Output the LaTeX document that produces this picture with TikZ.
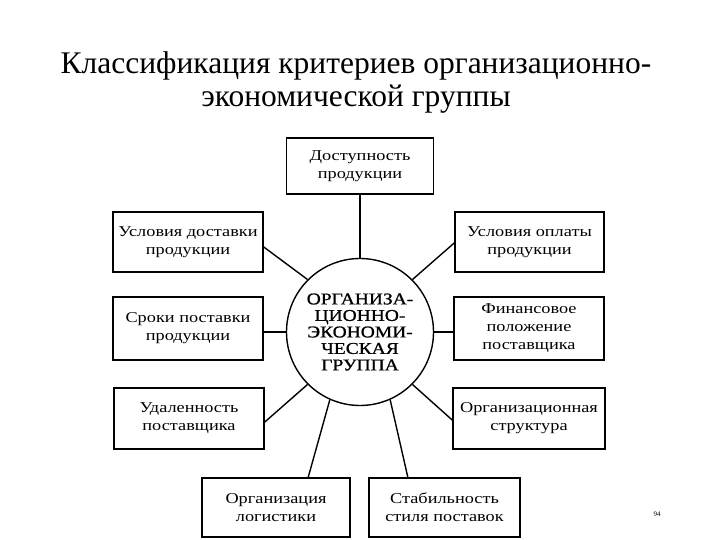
\documentclass[tikz,border=0pt]{standalone}
\usepackage{fontspec}
\setmainfont{Liberation Serif}
\newfontfamily\boxfont[FakeStretch=1.22]{Liberation Serif}
\newfontfamily\circfont[FakeStretch=1.18,FakeBold=1]{Liberation Serif}
\begin{document}
\begin{tikzpicture}[x=1pt,y=-1pt,
  box/.style={draw,line width=1.6pt,align=center,inner sep=0pt,font=\boxfont\fontsize{15}{18}\selectfont},
  link/.style={line width=1.4pt}]
\useasboundingbox (0,0) rectangle (720,540);
\node[align=center,font=\fontsize{31.5}{33}\selectfont] (title) at (356,82) {Классификация критериев организационно-\\экономической группы};
\node[draw,circle,line width=1.4pt,minimum size=147pt,inner sep=0pt,align=center,font=\circfont\fontsize{16.5}{16.5}\selectfont] (c) at (360,332) {ОРГАНИЗА-\\ЦИОННО-\\ЭКОНОМИ-\\ЧЕСКАЯ\\ГРУППА};
\node[box,minimum width=147pt,minimum height=56pt] (b1) at (360,166) {Доступность\\продукции};
\node[box,minimum width=150pt,minimum height=60pt] (b2) at (188,242) {Условия доставки\\продукции};
\node[box,minimum width=149pt,minimum height=60pt] (b3) at (529.5,242) {Условия оплаты\\продукции};
\node[box,minimum width=150pt,minimum height=63pt] (b4) at (188,328.5) {Сроки поставки\\продукции};
\node[box,minimum width=150pt,minimum height=63pt] (b5) at (529,328.5) {Финансовое\\положение\\поставщика};
\node[box,minimum width=150pt,minimum height=61pt] (b6) at (189,418.5) {Удаленность\\поставщика};
\node[box,minimum width=152pt,minimum height=61pt] (b7) at (529,418.5) {Организационная\\структура};
\node[box,minimum width=148pt,minimum height=59pt] (b8) at (276,507.5) {Организация\\логистики};
\node[box,minimum width=151pt,minimum height=59pt] (b9) at (444.5,507.5) {Стабильность\\стиля поставок};
\node[font=\fontsize{7}{8}\selectfont] (pg) at (657,514) {94};
\draw[link] (b1.south) -- (c.north);
\draw[link] (b2.east |- 0,247) -- (c.135);
\draw[link] (b3.west |- 0,243) -- (c.45);
\draw[link] (b4.east |- c.west) -- (c.west);
\draw[link] (b5.west |- c.east) -- (c.east);
\draw[link] (b6.east |- 0,422) -- (c.225);
\draw[link] (b7.west |- 0,420) -- (c.-45);
\draw[link] (308,478) -- (c.246);
\draw[link] (408,478) -- (c.294);
\end{tikzpicture}
\end{document}
